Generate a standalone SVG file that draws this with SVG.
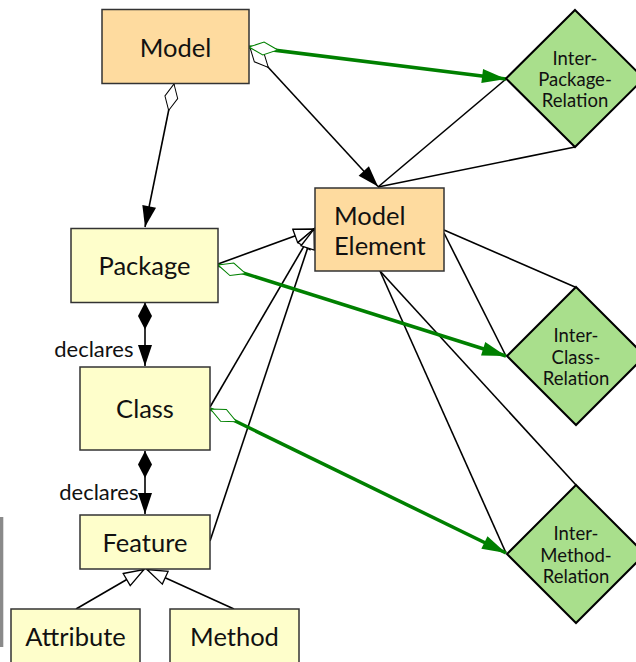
<svg xmlns="http://www.w3.org/2000/svg" width="636" height="662" viewBox="0 0 636 662">
<style>
.box{stroke:#333;stroke-width:1.5}
.me{fill:#fedb9f}
.cl{fill:#fefecb}
.rel{fill:#a9df8c;stroke:#000;stroke-width:2}
.t{font-family:Lato,"Liberation Sans",sans-serif;font-size:25.5px;fill:#111;text-anchor:middle}
.tl{font-family:Lato,"Liberation Sans",sans-serif;font-size:25.5px;fill:#111}
.rt{font-family:Lato,"Liberation Sans",sans-serif;font-size:18.5px;fill:#111;text-anchor:middle}
.lab{font-family:Lato,"Liberation Sans",sans-serif;font-size:22px;fill:#111;text-anchor:end}
.ln{fill:none;stroke:#000;stroke-width:1.6}
.gl{fill:none;stroke:#008000;stroke-width:3.5}
</style>
<defs>
<marker id="arr" markerUnits="userSpaceOnUse" markerWidth="22" markerHeight="14" refX="21" refY="7" orient="auto" overflow="visible"><path d="M0,0 L21,7 L0,14 Z" fill="#000"/></marker>
<marker id="garr" markerUnits="userSpaceOnUse" markerWidth="24" markerHeight="14" refX="24" refY="7" orient="auto" overflow="visible"><path d="M0,0 L24,7 L0,14 Z" fill="#008000"/></marker>
<marker id="tri" markerUnits="userSpaceOnUse" markerWidth="20" markerHeight="14" refX="20" refY="7" orient="auto" overflow="visible"><path d="M0,0 L20,7 L0,14 Z" fill="#fff" stroke="#000" stroke-width="1.3"/></marker>
<marker id="odia" markerUnits="userSpaceOnUse" markerWidth="27" markerHeight="13" refX="0" refY="6.5" orient="auto" overflow="visible"><path d="M0,6.5 L13.5,0 L27,6.5 L13.5,13 Z" fill="#fff" stroke="#000" stroke-width="1"/></marker>
<marker id="fdia" markerUnits="userSpaceOnUse" markerWidth="27" markerHeight="14" refX="0" refY="7" orient="auto" overflow="visible"><path d="M0,7 L13.5,0 L27,7 L13.5,14 Z" fill="#000"/></marker>
<marker id="gdia" markerUnits="userSpaceOnUse" markerWidth="29" markerHeight="13" refX="0" refY="6.5" orient="auto" overflow="visible"><path d="M0,6.5 L14.5,0 L29,6.5 L14.5,13 Z" fill="#fff" stroke="#008000" stroke-width="1"/></marker>
</defs>
<rect x="0" y="517" width="3.3" height="130" fill="#8a8a8a"/>
<g id="connectors">
<path class="ln" d="M378,187 L506,79"/>
<path class="ln" d="M378,187 L575,147"/>
<path class="ln" d="M444,230 L575,287"/>
<path class="ln" d="M444,233 L506,356"/>
<path class="ln" d="M380,271 L576,485"/>
<path class="ln" d="M380,271 L506,553"/>
<path class="ln" d="M250,47.5 L378,186.5" marker-start="url(#odia)" marker-end="url(#arr)"/>
<path class="ln" d="M174,84 L145,227" marker-start="url(#odia)" marker-end="url(#arr)"/>
<path class="ln" d="M145,302.5 L145,366" marker-start="url(#fdia)" marker-end="url(#arr)"/>
<path class="ln" d="M145,451 L145,514" marker-start="url(#fdia)" marker-end="url(#arr)"/>
<path class="ln" d="M218,264 L314,229" marker-end="url(#tri)"/>
<path class="ln" d="M210,407 L314,229" marker-end="url(#tri)"/>
<path class="ln" d="M210,541 L314,229" marker-end="url(#tri)"/>
<path class="ln" d="M76,609 L144,569.5" marker-end="url(#tri)"/>
<path class="ln" d="M234,609 L147,569.5" marker-end="url(#tri)"/>
<path class="gl" d="M249,47 L506,79" marker-end="url(#garr)"/>
<path class="gl" d="M218,265 L506,356" marker-end="url(#garr)"/>
<path class="gl" d="M210.5,409 L506,553" marker-end="url(#garr)"/>
<path fill="none" stroke="none" d="M249,47 L278,50" marker-start="url(#gdia)"/>
<path fill="none" stroke="none" d="M218,265 L247,274" marker-start="url(#gdia)"/>
<path fill="none" stroke="none" d="M210.5,409 L237,422" marker-start="url(#gdia)"/>
<text class="lab" x="133.5" y="357">declares</text>
<text class="lab" x="138.5" y="500">declares</text>
</g>
<g id="model"><rect class="box me" x="102" y="9.5" width="147" height="74"/><text class="t" x="175.5" y="57">Model</text></g>
<g id="modelelement"><rect class="box me" x="315" y="188" width="129" height="83"/><text class="tl" x="334" y="225">Model</text><text class="tl" x="334" y="255">Element</text></g>
<g id="package"><rect class="box cl" x="71" y="228.5" width="147" height="74"/><text class="t" x="144.5" y="275">Package</text></g>
<g id="class"><rect class="box cl" x="80" y="367" width="130" height="83"/><text class="t" x="145" y="418">Class</text></g>
<g id="feature"><rect class="box cl" x="80" y="515" width="130" height="54"/><text class="t" x="145" y="552">Feature</text></g>
<g id="attribute"><rect class="box cl" x="11" y="609" width="129" height="60"/><text class="t" x="75.5" y="646">Attribute</text></g>
<g id="method"><rect class="box cl" x="170" y="609" width="129" height="60"/><text class="t" x="234.5" y="646">Method</text></g>
<g id="interpackage"><path class="rel" d="M575,10 L644,78.5 L575,147 L506,78.5 Z"/><text class="rt" x="575" y="65">Inter-</text><text class="rt" x="575" y="86">Package-</text><text class="rt" x="575" y="107">Relation</text></g>
<g id="interclass"><path class="rel" d="M576,287 L645,356 L576,425 L507,356 Z"/><text class="rt" x="576" y="342">Inter-</text><text class="rt" x="576" y="364">Class-</text><text class="rt" x="576" y="385">Relation</text></g>
<g id="intermethod"><path class="rel" d="M576,485 L645,554 L576,623 L507,554 Z"/><text class="rt" x="576" y="540">Inter-</text><text class="rt" x="576" y="562">Method-</text><text class="rt" x="576" y="583">Relation</text></g>
</svg>
